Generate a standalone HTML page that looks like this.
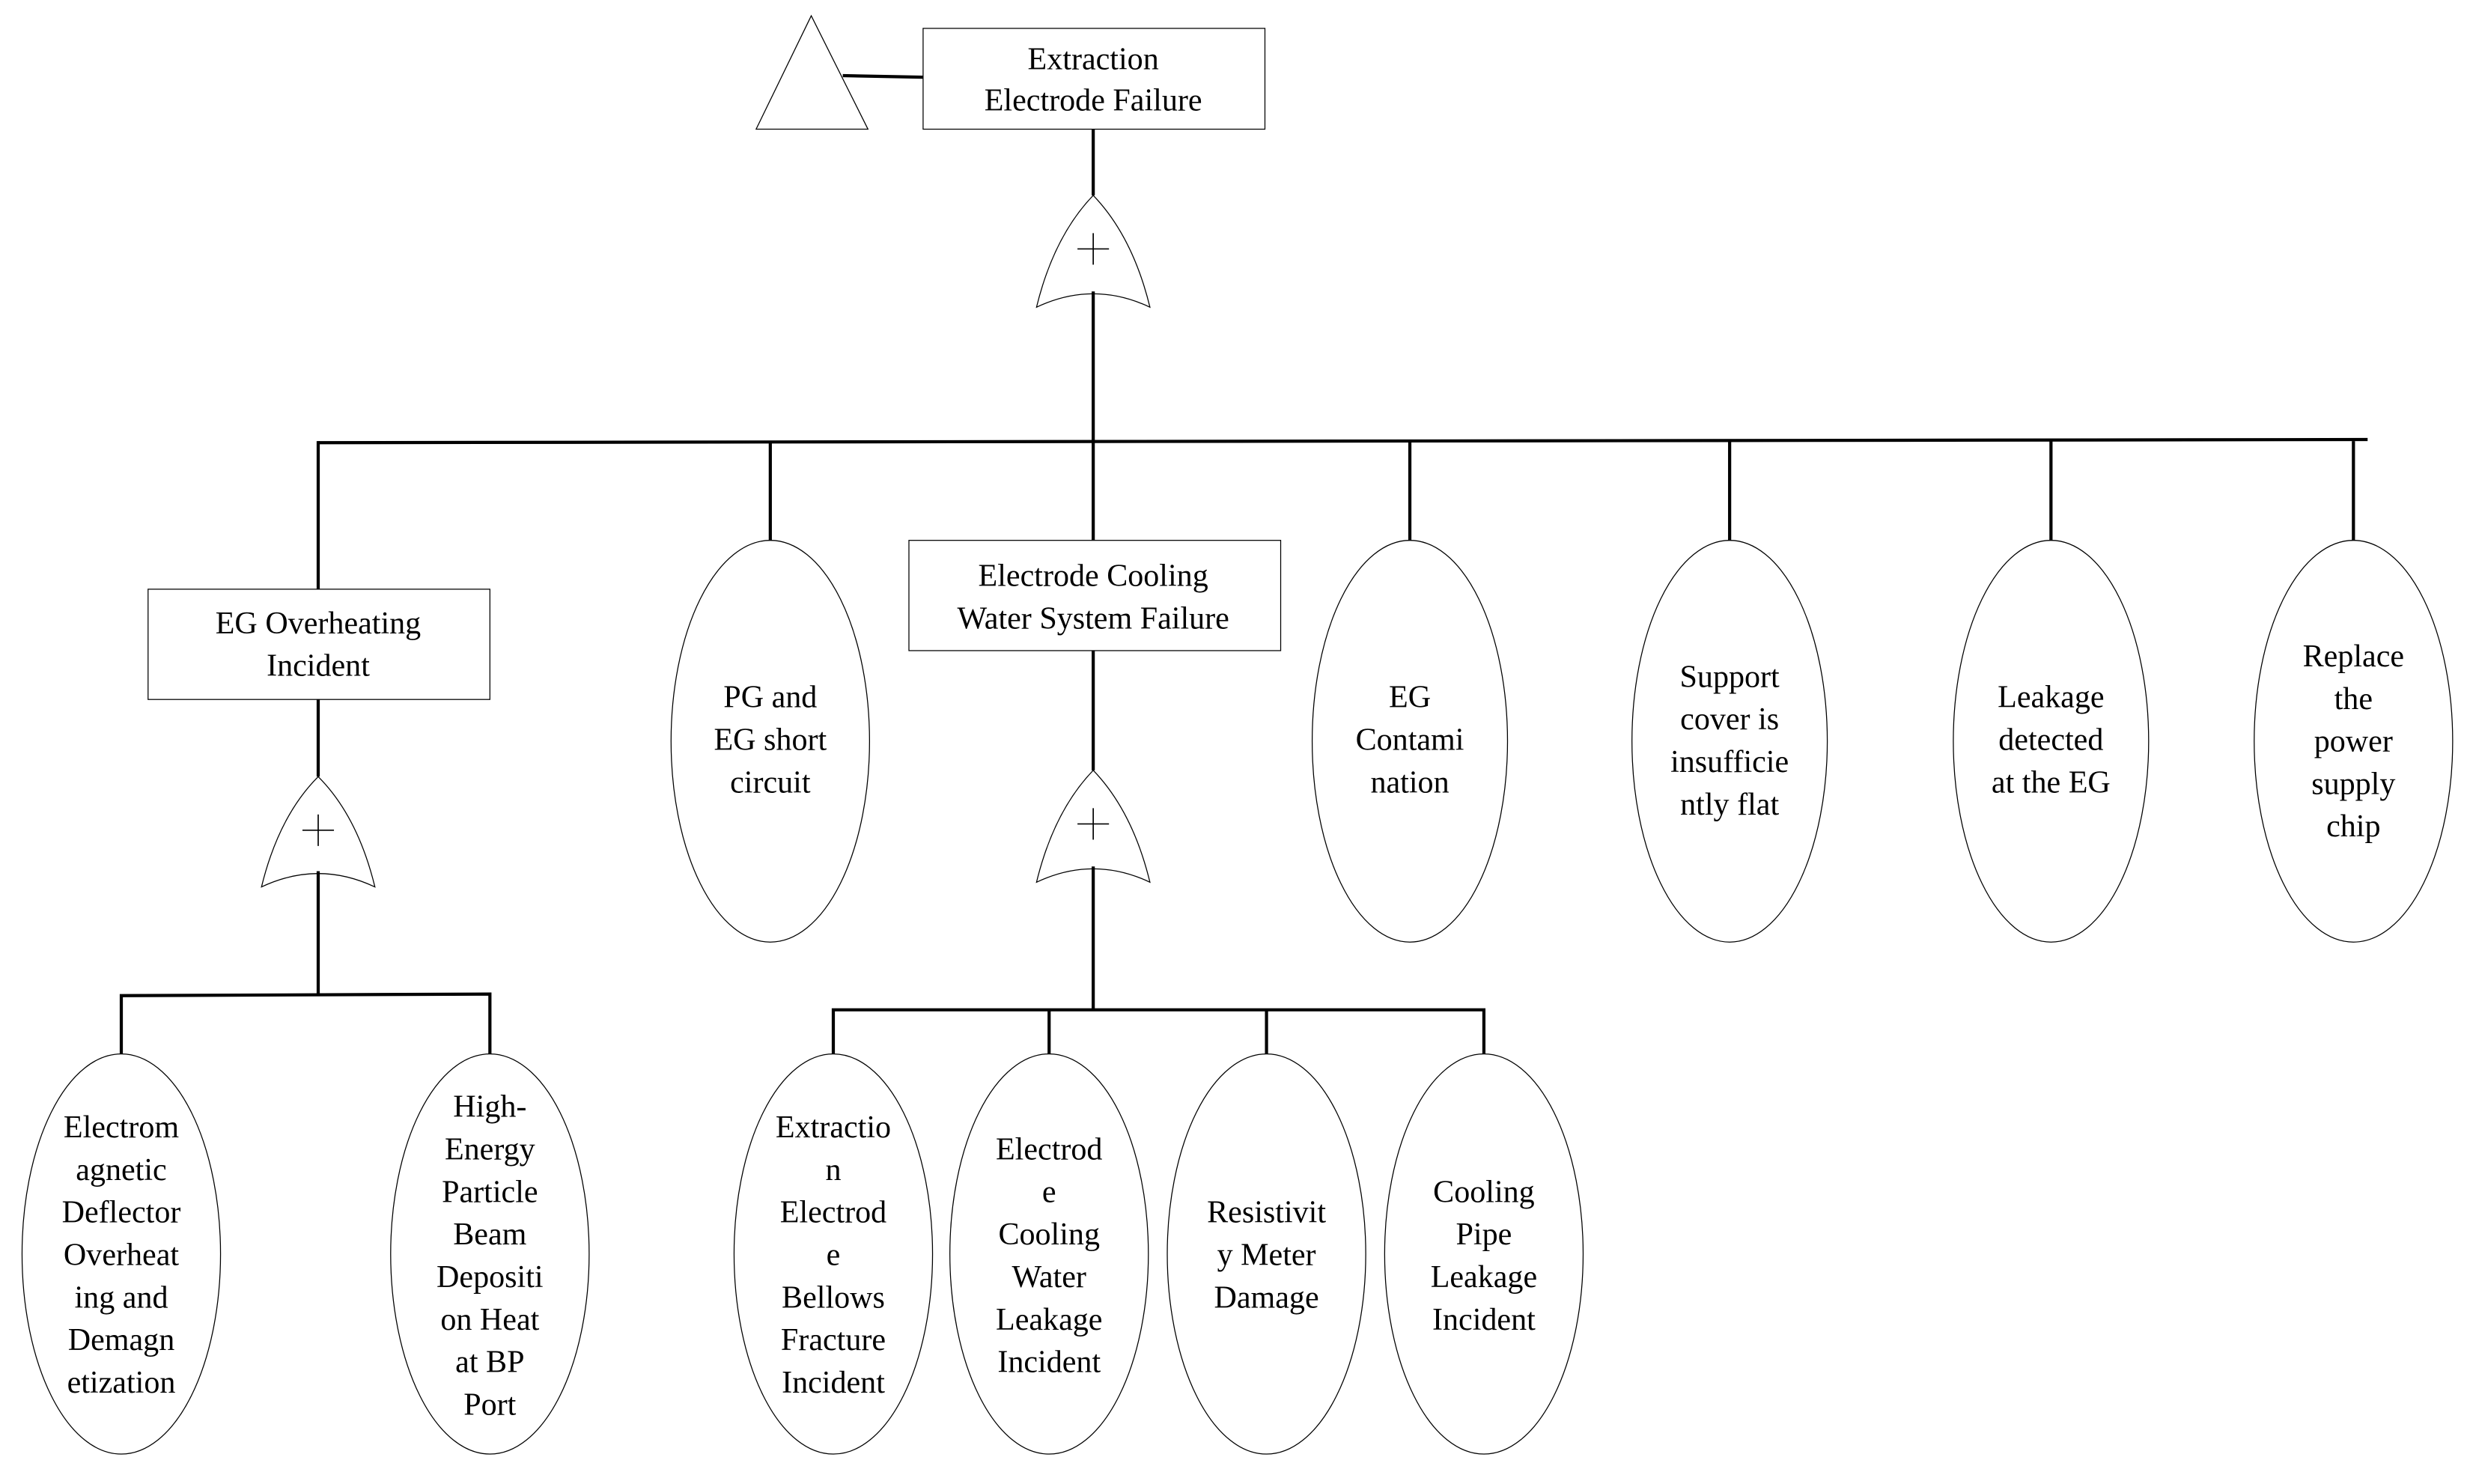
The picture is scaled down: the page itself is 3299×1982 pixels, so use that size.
<!DOCTYPE html>
<html><head><meta charset="utf-8"><style>
html,body{margin:0;padding:0;background:#fff;}
svg{display:block;}
text{font-family:"Liberation Serif",serif;font-size:20px;fill:#000;text-anchor:middle;}
</style></head><body>
<svg width="3299" height="1982" viewBox="0 0 1568 942" preserveAspectRatio="none" xmlns="http://www.w3.org/2000/svg">
<g fill="none" stroke="#000" stroke-width="0.6">
<polygon points="515,10 480,82 551,82" fill="#fff"/>
<rect x="586" y="18" width="217" height="64"/>
<rect x="94" y="374" width="217" height="70"/>
<rect x="577" y="343" width="236" height="70"/>
<path d="M658,195 Q669,150 694,124 Q719,150 730,195 Q694,178 658,195Z"/>
<path d="M166,563 Q177,518 202,493 Q227,518 238,563 Q202,546 166,563Z"/>
<path d="M658,560 Q669,515 694,489 Q719,515 730,560 Q694,543 658,560Z"/>
<ellipse cx="489" cy="470.5" rx="63" ry="127.5"/>
<ellipse cx="895" cy="470.5" rx="62" ry="127.5"/>
<ellipse cx="1098" cy="470.5" rx="62" ry="127.5"/>
<ellipse cx="1302" cy="470.5" rx="62" ry="127.5"/>
<ellipse cx="1494" cy="470.5" rx="63" ry="127.5"/>
<ellipse cx="77" cy="796" rx="63" ry="127"/>
<ellipse cx="311" cy="796" rx="63" ry="127"/>
<ellipse cx="529" cy="796" rx="63" ry="127"/>
<ellipse cx="666" cy="796" rx="63" ry="127"/>
<ellipse cx="804" cy="796" rx="63" ry="127"/>
<ellipse cx="942" cy="796" rx="63" ry="127"/>
</g>
<g stroke="#000" stroke-width="0.8">
<line x1="684" y1="158" x2="704" y2="158"/><line x1="694" y1="148" x2="694" y2="168"/>
<line x1="192" y1="527" x2="212" y2="527"/><line x1="202" y1="517" x2="202" y2="537"/>
<line x1="684" y1="523" x2="704" y2="523"/><line x1="694" y1="513" x2="694" y2="533"/>
</g>
<g fill="none" stroke="#000" stroke-width="2">
<line x1="535" y1="48" x2="586" y2="49"/>
<line x1="694" y1="82" x2="694" y2="124"/>
<line x1="694" y1="185" x2="694" y2="343"/>
<line x1="202" y1="281" x2="1503" y2="279"/>
<line x1="202" y1="280" x2="202" y2="374"/>
<line x1="489" y1="280" x2="489" y2="343"/>
<line x1="895" y1="280" x2="895" y2="343"/>
<line x1="1098" y1="280" x2="1098" y2="343"/>
<line x1="1302" y1="280" x2="1302" y2="343"/>
<line x1="1494" y1="280" x2="1494" y2="343"/>
<line x1="202" y1="444" x2="202" y2="493"/>
<line x1="202" y1="553" x2="202" y2="631"/>
<polyline points="77,669 77,632 311,631 311,669"/>
<line x1="694" y1="413" x2="694" y2="489"/>
<line x1="694" y1="550" x2="694" y2="641"/>
<polyline points="529,669 529,641 942,641 942,669"/>
<line x1="666" y1="641" x2="666" y2="669"/>
<line x1="804" y1="641" x2="804" y2="669"/>
</g>
<text x="694" y="44">Extraction</text>
<text x="694" y="70">Electrode Failure</text>
<text x="202" y="402">EG Overheating</text>
<text x="202" y="429">Incident</text>
<text x="694" y="372">Electrode Cooling</text>
<text x="694" y="399">Water System Failure</text>
<text x="489" y="449">PG and</text><text x="489" y="476">EG short</text><text x="489" y="503">circuit</text>
<text x="895" y="449">EG</text><text x="895" y="476">Contami</text><text x="895" y="503">nation</text>
<text x="1098" y="436">Support</text><text x="1098" y="463">cover is</text><text x="1098" y="490">insufficie</text><text x="1098" y="517">ntly flat</text>
<text x="1302" y="449">Leakage</text><text x="1302" y="476">detected</text><text x="1302" y="503">at the EG</text>
<text x="1494" y="423">Replace</text><text x="1494" y="450">the</text><text x="1494" y="477">power</text><text x="1494" y="504">supply</text><text x="1494" y="531">chip</text>
<text x="77" y="722">Electrom</text><text x="77" y="749">agnetic</text><text x="77" y="776">Deflector</text><text x="77" y="803">Overheat</text><text x="77" y="830">ing and</text><text x="77" y="857">Demagn</text><text x="77" y="884">etization</text>
<text x="311" y="709">High-</text><text x="311" y="736">Energy</text><text x="311" y="763">Particle</text><text x="311" y="790">Beam</text><text x="311" y="817">Depositi</text><text x="311" y="844">on Heat</text><text x="311" y="871">at BP</text><text x="311" y="898">Port</text>
<text x="529" y="722">Extractio</text><text x="529" y="749">n</text><text x="529" y="776">Electrod</text><text x="529" y="803">e</text><text x="529" y="830">Bellows</text><text x="529" y="857">Fracture</text><text x="529" y="884">Incident</text>
<text x="666" y="736">Electrod</text><text x="666" y="763">e</text><text x="666" y="790">Cooling</text><text x="666" y="817">Water</text><text x="666" y="844">Leakage</text><text x="666" y="871">Incident</text>
<text x="804" y="776">Resistivit</text><text x="804" y="803">y Meter</text><text x="804" y="830">Damage</text>
<text x="942" y="763">Cooling</text><text x="942" y="790">Pipe</text><text x="942" y="817">Leakage</text><text x="942" y="844">Incident</text>
</svg>
</body></html>
